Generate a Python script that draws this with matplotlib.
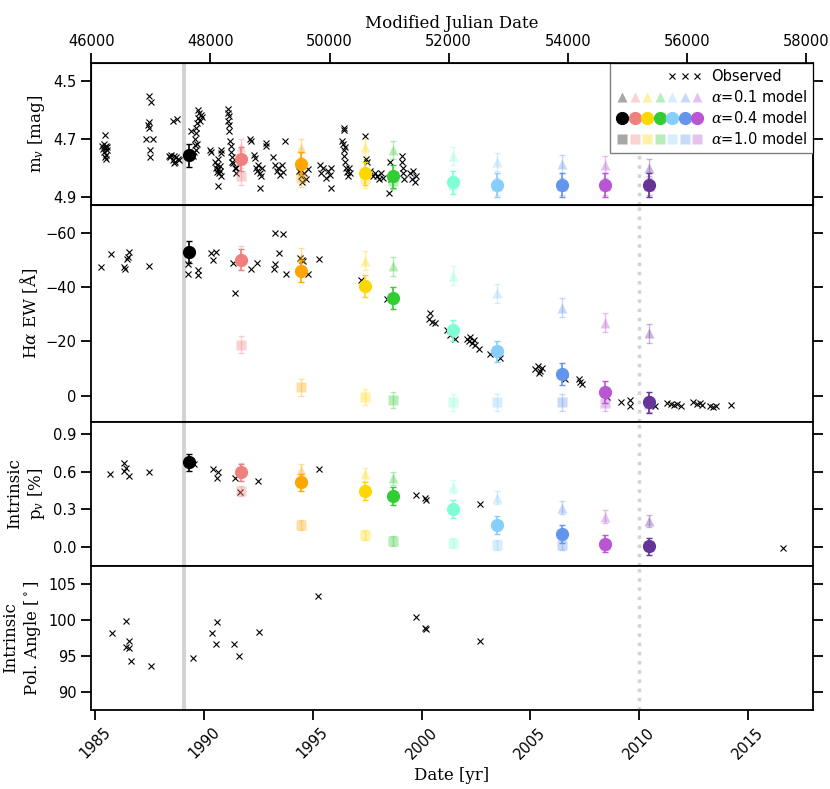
import matplotlib.pyplot as plt
import numpy as np
from matplotlib.lines import Line2D
from matplotlib.legend_handler import HandlerTuple
from matplotlib.ticker import MultipleLocator

nan = np.nan

# observed V magnitude (year, mag)
mag_obs = [
    (1985.30, 4.725), (1985.34, 4.735), (1985.38, 4.72), (1985.42, 4.745), (1985.45, 4.73),
    (1985.48, 4.755), (1985.50, 4.725), (1985.53, 4.74), (1985.56, 4.73), (1985.44, 4.765),
    (1985.47, 4.77), (1985.46, 4.687),
    (1987.46, 4.554), (1987.58, 4.575), (1987.46, 4.644), (1987.44, 4.652), (1987.48, 4.664),
    (1987.35, 4.70), (1987.65, 4.70), (1987.50, 4.741), (1987.52, 4.762),
    (1988.58, 4.641), (1988.76, 4.633), (1988.40, 4.76), (1988.45, 4.765), (1988.50, 4.755),
    (1988.55, 4.775), (1988.62, 4.76), (1988.68, 4.78), (1988.72, 4.765), (1988.78, 4.77),
    (1988.85, 4.775), (1988.60, 4.785),
    (1989.42, 4.675), (1989.50, 4.76), (1989.55, 4.745), (1989.58, 4.722), (1989.60, 4.70),
    (1989.62, 4.68), (1989.65, 4.662), (1989.68, 4.645), (1989.72, 4.628), (1989.70, 4.60),
    (1989.78, 4.612), (1989.85, 4.618), (1989.92, 4.625), (1989.80, 4.64), (1989.66, 4.72),
    (1989.62, 4.74),
    (1990.27, 4.738), (1990.30, 4.747),
    (1990.50, 4.78), (1990.55, 4.80), (1990.58, 4.79), (1990.60, 4.815), (1990.63, 4.77),
    (1990.65, 4.805), (1990.68, 4.82), (1990.72, 4.795), (1990.75, 4.81), (1990.78, 4.83),
    (1990.77, 4.74), (1990.80, 4.75), (1990.64, 4.863),
    (1991.12, 4.598), (1991.10, 4.612), (1991.14, 4.623), (1991.12, 4.641), (1991.16, 4.652),
    (1991.15, 4.675), (1991.18, 4.71), (1991.22, 4.727), (1991.25, 4.745), (1991.28, 4.762),
    (1991.35, 4.785), (1991.40, 4.802), (1991.48, 4.82), (1991.30, 4.78), (1991.45, 4.80),
    (1992.11, 4.70), (1992.14, 4.71), (1992.30, 4.757), (1992.33, 4.768), (1992.40, 4.80),
    (1992.45, 4.81), (1992.50, 4.79), (1992.55, 4.82), (1992.62, 4.83), (1992.68, 4.80),
    (1992.57, 4.871), (1992.85, 4.715), (1992.87, 4.725),
    (1993.15, 4.762), (1993.26, 4.79), (1993.35, 4.81), (1993.42, 4.80), (1993.50, 4.825),
    (1993.58, 4.79), (1993.65, 4.815), (1993.74, 4.71),
    (1994.35, 4.81), (1994.45, 4.83), (1994.52, 4.85), (1994.60, 4.82), (1994.70, 4.84),
    (1994.78, 4.805),
    (1995.34, 4.79), (1995.40, 4.82), (1995.48, 4.80), (1995.60, 4.835), (1995.70, 4.81),
    (1995.80, 4.825), (1995.86, 4.80), (1995.83, 4.871),
    (1996.44, 4.664), (1996.45, 4.672), (1996.35, 4.71), (1996.40, 4.72), (1996.42, 4.74),
    (1996.45, 4.76), (1996.48, 4.78), (1996.52, 4.80), (1996.56, 4.815), (1996.60, 4.83),
    (1996.65, 4.80), (1996.70, 4.82), (1996.50, 4.73),
    (1997.41, 4.69), (1997.43, 4.77), (1997.48, 4.78), (1997.65, 4.81), (1997.75, 4.83),
    (1997.85, 4.82), (1997.95, 4.83), (1998.05, 4.84), (1998.15, 4.82), (1998.25, 4.835),
    (1998.54, 4.78), (1998.49, 4.889), (1998.60, 4.84),
    (1999.10, 4.76), (1999.12, 4.78), (1999.14, 4.80), (1999.16, 4.82), (1999.20, 4.84),
    (1999.45, 4.82), (1999.55, 4.84), (1999.62, 4.81), (1999.70, 4.85), (1999.75, 4.83),
]

# observed H-alpha equivalent width (year, EW)
ew_obs = [
    (1985.28, -47.3), (1985.70, -52.0), (1986.32, -47.4), (1986.35, -46.7), (1986.47, -50.3),
    (1986.55, -52.9), (1986.52, -51.0), (1987.49, -47.6), (1989.27, -48.5), (1989.27, -44.9),
    (1989.71, -46.1), (1989.74, -44.3), (1990.30, -52.4), (1990.54, -52.8), (1990.42, -49.8),
    (1991.31, -48.7), (1991.42, -37.8), (1992.14, -46.5), (1992.45, -48.7), (1993.26, -60.0),
    (1993.63, -59.5), (1993.22, -46.8), (1993.28, -48.5), (1993.45, -52.4), (1993.77, -44.9),
    (1994.40, -50.7), (1994.49, -50.1), (1994.56, -49.5), (1994.80, -44.9), (1995.29, -50.3),
    (1997.23, -42.7), (1998.41, -35.5),
    (2000.33, -28.4), (2000.41, -30.3), (2000.49, -27.2), (2000.64, -26.6), (2001.17, -24.1),
    (2001.30, -22.5), (2001.56, -21.0), (2002.10, -21.0), (2002.20, -20.0), (2002.30, -19.2),
    (2002.25, -21.5), (2002.40, -20.5), (2002.48, -18.5), (2002.63, -17.3), (2003.17, -15.5),
    (2003.60, -13.9), (2005.24, -9.9), (2005.35, -10.8), (2005.45, -9.0), (2005.55, -10.2),
    (2005.40, -8.4), (2006.59, -6.2), (2007.24, -6.2), (2007.39, -4.3), (2007.30, -5.0),
    (2008.55, 0.6), (2008.40, -0.5), (2009.19, 2.2), (2009.59, 1.5), (2009.59, 3.7),
    (2010.73, 3.7), (2011.30, 2.8), (2011.45, 3.2), (2011.60, 3.5), (2011.75, 3.0),
    (2011.95, 3.8), (2012.50, 2.5), (2012.65, 3.0), (2012.80, 2.6), (2012.90, 3.5),
    (2013.25, 3.8), (2013.40, 4.2), (2013.55, 4.0), (2014.23, 3.3),
]

# observed intrinsic polarization (year, %)
pol_obs = [
    (1985.66, 0.583), (1986.30, 0.668), (1986.43, 0.633), (1986.30, 0.607), (1986.55, 0.569),
    (1987.46, 0.596), (1989.54, 0.66), (1990.39, 0.622), (1990.65, 0.596), (1990.58, 0.548),
    (1991.42, 0.548), (1991.65, 0.436), (1992.49, 0.529), (1995.29, 0.62), (1999.76, 0.415),
    (2000.18, 0.39), (2000.20, 0.375), (2002.67, 0.346), (2016.61, -0.005),
]

# observed intrinsic polarization angle (year, deg)
pa_obs = [
    (1985.77, 98.2), (1986.41, 99.9), (1986.40, 96.3), (1986.55, 97.1), (1986.55, 96.1),
    (1986.63, 94.3), (1987.55, 93.6), (1989.50, 94.7), (1990.35, 98.2), (1990.53, 96.6),
    (1990.60, 99.7), (1991.39, 96.7), (1991.62, 95.0), (1992.52, 98.4), (1995.26, 103.3),
    (1999.75, 100.4), (2000.18, 98.9), (2000.20, 98.8), (2002.68, 97.1),
]

# model epochs
model_yr = [1989.30, 1991.68, 1994.45, 1997.41, 1998.67, 2001.43, 2003.45, 2006.44, 2008.45, 2010.45]
model_col = ['black', 'lightcoral', 'orange', 'gold', 'limegreen', 'aquamarine',
             'lightskyblue', 'cornflowerblue', 'mediumorchid', 'rebeccapurple']

mag_a01 = [nan, 4.73, 4.733, 4.73, 4.74, 4.76, 4.78, 4.787, 4.79, 4.80]
mag_a04 = [4.758, 4.77, 4.787, 4.82, 4.83, 4.85, 4.86, 4.86, 4.86, 4.86]
mag_a10 = [nan, 4.83, 4.837, 4.84, 4.845, 4.86, 4.865, 4.865, 4.865, 4.865]

ew_a01 = [nan, -51.5, -50.7, -49.7, -47.6, -44.2, -37.7, -32.4, -26.8, -22.9]
ew_a04 = [-52.9, -50.1, -46.0, -40.4, -35.9, -24.0, -16.3, -7.9, -1.2, 2.5]
ew_a10 = [nan, -18.8, -3.0, 0.6, 1.5, 2.5, 2.5, 2.5, 2.7, 3.0]

pol_a01 = [nan, 0.62, 0.614, 0.58, 0.548, 0.481, 0.394, 0.314, 0.242, 0.208]
pol_a04 = [0.676, 0.596, 0.516, 0.447, 0.407, 0.303, 0.176, 0.106, 0.027, 0.005]
pol_a10 = [nan, 0.447, 0.176, 0.096, 0.048, 0.03, 0.016, 0.016, 0.02, 0.005]

legend_col = ['black', 'lightcoral', 'gold', 'limegreen', 'lightskyblue', 'cornflowerblue', 'mediumorchid']

shell_yr = 1989.07
end_yr = 2010.0


def yr2mjd(y):
    return (np.asarray(y) - 1858.8767) * 365.25


def plot_models(ax, a01, a04, a10, e01, e04, e10):
    for i, (x, c) in enumerate(zip(model_yr, model_col)):
        ax.errorbar(x, a01[i], yerr=e01, fmt='^', color=c, mec='none', ms=7, alpha=0.35,
                    capsize=2, elinewidth=1, zorder=3)
        ax.errorbar(x, a10[i], yerr=e10, fmt='s', color=c, mec='none', ms=7, alpha=0.35,
                    capsize=2, elinewidth=1, zorder=3)
        ax.errorbar(x, a04[i], yerr=e04, fmt='o', color=c, ms=8.5,
                    capsize=2, elinewidth=1.2, zorder=4)


def main():
    plt.rcParams['mathtext.fontset'] = 'dejavuserif'
    serif = 'DejaVu Serif'

    fig = plt.figure(figsize=(8.3, 7.89), dpi=100)
    gs = fig.add_gridspec(4, 1, height_ratios=[142, 216, 144, 144], hspace=0,
                          left=0.1096, right=0.9795, top=0.920, bottom=0.100)
    axes = [fig.add_subplot(gs[0])]
    for k in range(1, 4):
        axes.append(fig.add_subplot(gs[k], sharex=axes[0]))

    obs_kw = dict(ls='none', marker='x', color='black', ms=4.5, mew=0.8, zorder=2)

    m = np.array(mag_obs).T
    axes[0].plot(m[0], m[1], **obs_kw)
    plot_models(axes[0], mag_a01, mag_a04, mag_a10, 0.03, 0.04, 0.03)
    axes[0].set_ylim(4.93, 4.44)
    axes[0].set_yticks([4.5, 4.7, 4.9])
    axes[0].set_ylabel('m$_v$ [mag]', family=serif, fontsize=12)

    e = np.array(ew_obs).T
    axes[1].plot(e[0], e[1], **obs_kw)
    plot_models(axes[1], ew_a01, ew_a04, ew_a10, 3.5, 4.0, 3.0)
    axes[1].set_ylim(9.6, -70.1)
    axes[1].yaxis.set_major_locator(MultipleLocator(20))
    axes[1].set_ylabel(r'H$\alpha$ EW [$\mathrm{\AA}$]', family=serif, fontsize=12)

    p = np.array(pol_obs).T
    axes[2].plot(p[0], p[1], **obs_kw)
    plot_models(axes[2], pol_a01, pol_a04, pol_a10, 0.05, 0.07, 0.04)
    axes[2].set_ylim(-0.15, 1.0)
    axes[2].set_yticks([0.0, 0.3, 0.6, 0.9])
    axes[2].set_ylabel('Intrinsic\np$_v$ [%]', family=serif, fontsize=12)

    a = np.array(pa_obs).T
    axes[3].plot(a[0], a[1], **obs_kw)
    axes[3].set_ylim(87.5, 107.5)
    axes[3].yaxis.set_major_locator(MultipleLocator(5))
    axes[3].set_ylabel('Intrinsic\nPol. Angle [$^\\circ$]', family=serif, fontsize=12)

    for ax in axes:
        ax.axvline(shell_yr, color='lightgray', lw=3, zorder=1)
        ax.axvline(end_yr, color='lightgray', lw=2.5, ls=':', zorder=1)
        ax.tick_params(axis='y', direction='out', length=7, width=1.3, labelsize=10.5,
                       right=True)
        ax.tick_params(axis='x', bottom=False, labelbottom=False)
        for s in ax.spines.values():
            s.set_linewidth(1.3)

    axes[0].set_xlim(1984.8, 2018.0)
    axes[3].tick_params(axis='x', bottom=True, labelbottom=True, direction='out',
                        length=7, width=1.3, labelsize=10.5)
    axes[3].set_xticks([1985, 1990, 1995, 2000, 2005, 2010, 2015])
    plt.setp(axes[3].get_xticklabels(), rotation=45)
    axes[3].set_xlabel('Date [yr]', family=serif, fontsize=12)

    top = axes[0].twiny()
    top.set_xlim(yr2mjd(1984.8), yr2mjd(2018.0))
    top.set_xticks(np.arange(46000, 58001, 2000))
    top.tick_params(axis='x', direction='out', length=7, width=1.3, labelsize=10.5)
    top.set_xlabel('Modified Julian Date', family=serif, fontsize=12)

    # legend
    blank = Line2D([], [], ls='none', marker=None)
    obs_h = tuple([blank] * 4 + [Line2D([], [], ls='none', marker='x', color='black',
                                        ms=4.5, mew=0.8)] * 3)
    tri_h = tuple(Line2D([], [], ls='none', marker='^', color=c, mec='none', ms=7,
                         alpha=0.35) for c in legend_col)
    cir_h = tuple(Line2D([], [], ls='none', marker='o', color=c, ms=8.5)
                  for c in legend_col)
    sq_h = tuple(Line2D([], [], ls='none', marker='s', color=c, mec='none', ms=7,
                        alpha=0.35) for c in legend_col)
    leg = axes[0].legend([obs_h, tri_h, cir_h, sq_h],
                         ['Observed', r'$\alpha$=0.1 model', r'$\alpha$=0.4 model',
                          r'$\alpha$=1.0 model'],
                         handler_map={tuple: HandlerTuple(ndivide=None, pad=0)},
                         loc='upper right', borderaxespad=0, handlelength=6.0,
                         fontsize=10.5, fancybox=False, framealpha=1,
                         edgecolor='gray', labelspacing=0.35, handletextpad=0.5)
    leg.set_zorder(10)

    fig.savefig('out.png', dpi=100)


if __name__ == "__main__":
    main()
